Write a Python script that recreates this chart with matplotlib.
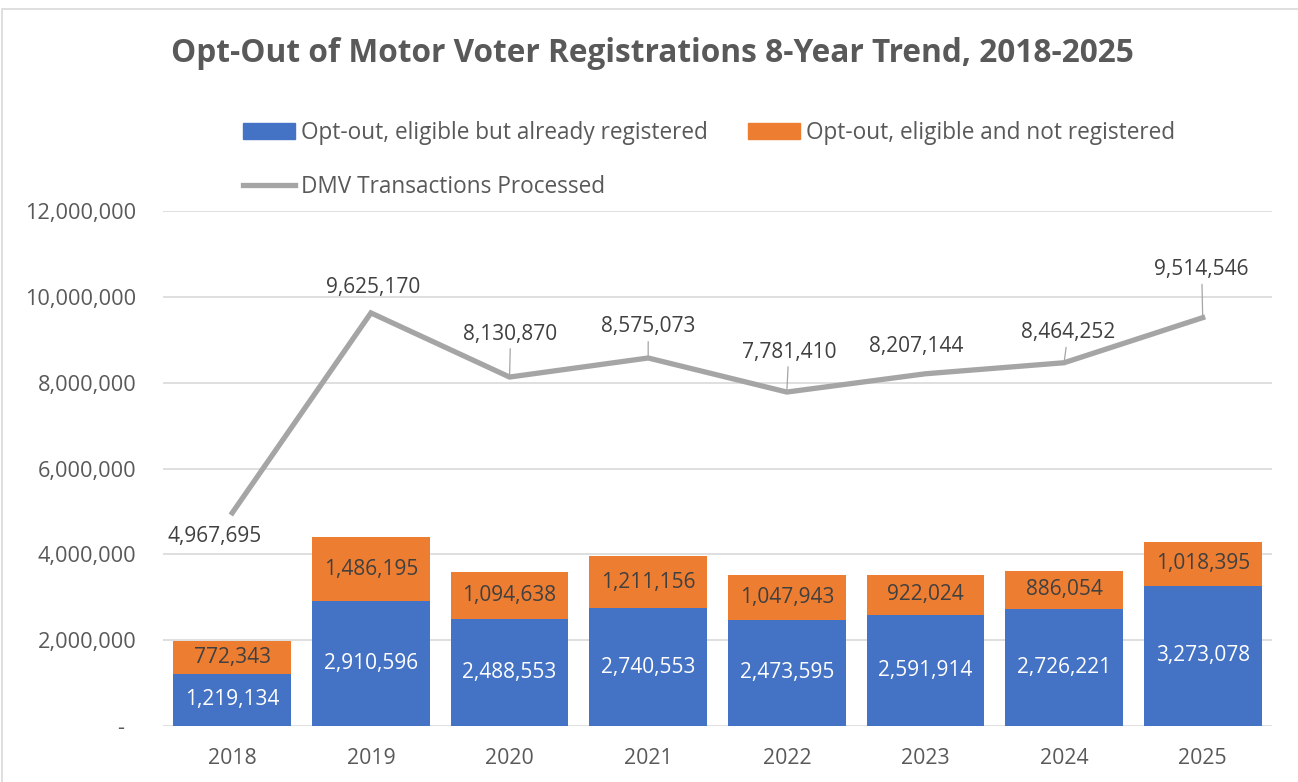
import numpy as np
import matplotlib
matplotlib.use("Agg")
from matplotlib import pyplot as plt
from matplotlib.patches import Patch, Rectangle
from matplotlib.lines import Line2D
from matplotlib.ticker import FuncFormatter

plt.rcParams['font.family'] = ['Open Sans', 'DejaVu Sans']

# data
years = ['2018', '2019', '2020', '2021', '2022', '2023', '2024', '2025']
already_registered = [1219134, 2910596, 2488553, 2740553, 2473595, 2591914, 2726221, 3273078]
not_registered = [772343, 1486195, 1094638, 1211156, 1047943, 922024, 886054, 1018395]
dmv_transactions = [4967695, 9625170, 8130870, 8575073, 7781410, 8207144, 8464252, 9514546]

blue = '#4472C4'
orange = '#ED7D31'
gray = '#A5A5A5'
txt = '#595959'
lab = '#404040'

fig = plt.figure(figsize=(12.98, 7.82), dpi=100)
ax = fig.add_axes([163/1298, 1-726/782, (1272-163)/1298, (726-211)/782])

x = np.arange(len(years))
ax.bar(x, already_registered, width=0.85, color=blue, zorder=2)
ax.bar(x, not_registered, width=0.85, bottom=already_registered, color=orange, zorder=2)
ax.plot(x, dmv_transactions, color=gray, lw=3.8, zorder=3, solid_joinstyle='miter')

# bar labels
for i in range(len(years)):
    ax.text(x[i], already_registered[i]/2, f'{already_registered[i]:,}', ha='center', va='center',
            color='white', fontsize=15, zorder=4)
    ax.text(x[i], already_registered[i] + not_registered[i]/2, f'{not_registered[i]:,}', ha='center',
            va='center', color=lab, fontsize=15, zorder=4)

# line labels: offsets in pixels, leader line or not
offsets = [(-18, -24, False), (2, 25, False), (1, 43, True), (0, 31, True),
           (2, 40, True), (-9, 27, False), (4, 30, True), (-1, 48, True)]
for i, (dx, dy, leader) in enumerate(offsets):
    props = dict(arrowstyle='-', color=gray, lw=0.9, shrinkA=1, shrinkB=1) if leader else None
    ax.annotate(f'{dmv_transactions[i]:,}', xy=(x[i], dmv_transactions[i]), xytext=(dx, dy),
                textcoords='offset pixels', ha='center', va='center', color=lab, fontsize=15,
                arrowprops=props, zorder=4)

ax.set_xlim(-0.5, 7.5)
ax.set_ylim(0, 12000000)
ax.set_yticks(np.arange(0, 12000001, 2000000))
ax.yaxis.set_major_formatter(FuncFormatter(lambda v, p: '-  ' if v == 0 else f'{int(v):,}'))
ax.set_xticks(x)
ax.set_xticklabels(years)
ax.tick_params(axis='y', length=0, pad=19, labelsize=15.7, labelcolor=txt)
ax.tick_params(axis='x', length=0, pad=16, labelsize=15.3, labelcolor=txt)
for s in ax.spines.values():
    s.set_visible(False)
ax.grid(axis='y', color='#D9D9D9', lw=1.2, zorder=0)
ax.set_axisbelow(True)

fig.text(652/1298, 1-54/782, 'Opt-Out of Motor Voter Registrations 8-Year Trend, 2018-2025',
         ha='center', va='center', fontsize=22.8, fontweight='bold', color=txt)

handles = [Patch(color=blue), Line2D([], [], color=gray, lw=3.8), Patch(color=orange)]
labels = ['Opt-out, eligible but already registered', 'DMV Transactions Processed',
          'Opt-out, eligible and not registered']
fig.legend(handles, labels, ncol=2, loc='upper left', bbox_to_anchor=(243/1298, 1-121/782),
           frameon=False, fontsize=16.3, labelcolor=txt, handlelength=2.3, handleheight=0.75,
           handletextpad=0.25, columnspacing=1.8, labelspacing=1.34, borderpad=0, borderaxespad=0)

fig.patches.append(Rectangle((2/1298, -0.01), 1.1, 1-9/782+0.01, transform=fig.transFigure,
                             fill=False, edgecolor='#D9D9D9', lw=1.2))

fig.savefig('out.png', dpi=100)
